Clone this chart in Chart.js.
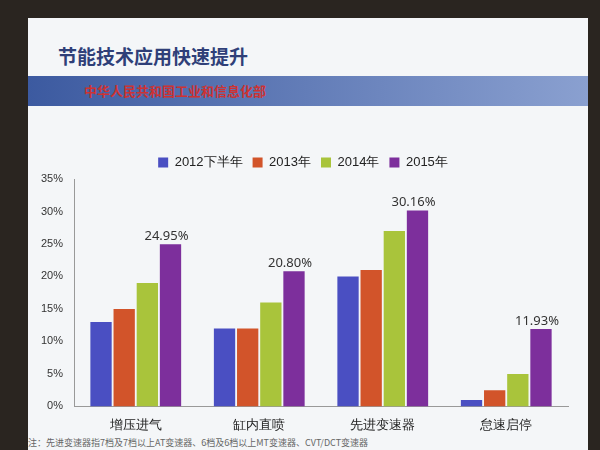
<!DOCTYPE html>
<html>
<head>
<meta charset="utf-8">
<script src="https://cdn.jsdelivr.net/npm/chart.js@4"></script>
<style>
    body { margin: 0; width: 600px; height: 450px; background: #2a2520; font-family: "Noto Sans CJK SC", sans-serif; overflow: hidden; }
    #slide { position: absolute; left: 28px; top: 18px; width: 560px; height: 432px; background: #f4f6f8; }
    #title { position: absolute; left: 30px; top: 24px; font-size: 19px; color: #2f3f78; font-weight: bold; }
    #band { position: absolute; left: 0; top: 58px; width: 560px; height: 30px; background: linear-gradient(90deg, #3c5aa0, #8aa0d0); color: #c33; font-size: 13px; font-weight: bold; line-height: 30px; padding-left: 56px; box-sizing: border-box; }
    #wrap { position: absolute; left: 0; top: 128px; width: 560px; height: 290px; }
    #note { position: absolute; left: 0; top: 418px; font-size: 9px; color: #666; }
</style>
</head>
<body>
<div id="slide">
    <div id="title">节能技术应用快速提升</div>
    <div id="band">中华人民共和国工业和信息化部</div>
    <div id="wrap"><canvas id="chart"></canvas></div>
    <div id="note">注：先进变速器指7档及7档以上AT变速器、6档及6档以上MT变速器、CVT/DCT变速器</div>
</div>
<script>
var categories = ['增压进气', '缸内直喷', '先进变速器', '怠速启停'];
var seriesNames = ['2012下半年', '2013年', '2014年', '2015年'];
var seriesColors = ['#4a4fc2', '#d2542a', '#a9c43b', '#7d2f9c'];
var values2012 = [13, 12, 20, 1];
var values2013 = [15, 12, 21, 2.5];
var values2014 = [19, 16, 27, 5];
var values2015 = [24.95, 20.80, 30.16, 11.93];
var yTicks = [0, 5, 10, 15, 20, 25, 30, 35];

var allValues = [values2012, values2013, values2014, values2015];

var labelPlugin = {
    id: 'lastLabels',
    afterDatasetsDraw: function (chart) {
        var ctx = chart.ctx;
        var meta = chart.getDatasetMeta(3);
        ctx.save();
        ctx.font = '13px "Noto Sans", sans-serif';
        ctx.fillStyle = '#333';
        ctx.textAlign = 'center';
        meta.data.forEach(function (bar, i) {
            ctx.fillText(values2015[i].toFixed(2) + '%', bar.x - 4, bar.y - 8);
        });
        ctx.restore();
    }
};

new Chart(document.getElementById('chart'), {
    type: 'bar',
    data: {
        labels: categories,
        datasets: allValues.map(function (vals, i) {
            return { label: seriesNames[i], data: vals, backgroundColor: seriesColors[i] };
        })
    },
    options: {
        responsive: true,
        maintainAspectRatio: false,
        animation: false,
        layout: { padding: { left: 10, right: 20, top: 0, bottom: 0 } },
        datasets: { bar: { categoryPercentage: 0.75, barPercentage: 0.92 } },
        plugins: {
            legend: {
                position: 'top',
                labels: { boxWidth: 10, boxHeight: 10, font: { size: 13 }, color: '#222' }
            },
            tooltip: { enabled: false }
        },
        scales: {
            y: {
                min: 0, max: 35,
                afterBuildTicks: function (axis) {
                    axis.ticks = yTicks.map(function (v) { return { value: v }; });
                },
                ticks: { callback: function (v) { return v + '%'; }, color: '#333', font: { size: 11 } },
                grid: { display: false },
                border: { color: '#999' }
            },
            x: {
                ticks: { color: '#222', font: { size: 13 } },
                grid: { display: false },
                border: { color: '#999' }
            }
        }
    },
    plugins: [labelPlugin]
});
</script>
</body>
</html>
